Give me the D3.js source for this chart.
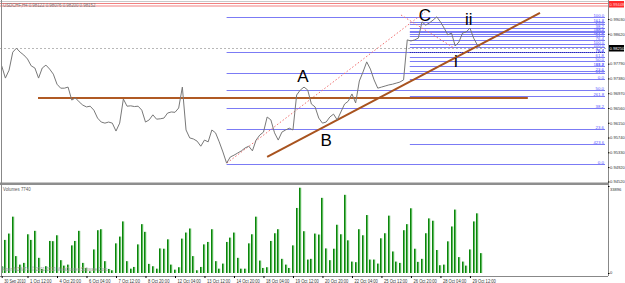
<!DOCTYPE html>
<html>
<head>
<meta charset="utf-8">
<script src="https://cdn.jsdelivr.net/npm/d3@7"></script>
<style>
  body { margin: 0; background: #fff; }
  svg { display: block; font-family: "Liberation Sans", Arial, sans-serif; }
</style>
</head>
<body>
<div id="chart"></div>
<script>
// USDCHF H4 closes, one per bar (30 Sep 2010 - 29 Oct 2010)
const closes = [
  0.9773, 0.9739, 0.9761, 0.9811, 0.9822, 0.9811, 0.9803, 0.9792, 0.9773, 0.9767,
  0.9739, 0.9767, 0.9775, 0.9764, 0.9750, 0.9722, 0.9711, 0.9711, 0.9714, 0.9678,
  0.9684, 0.9673, 0.9664, 0.9659, 0.9661, 0.9650, 0.9628, 0.9617, 0.9614, 0.9617,
  0.9614, 0.9592, 0.9614, 0.9681, 0.9661, 0.9662, 0.9660, 0.9661, 0.9650, 0.9617,
  0.9623, 0.9637, 0.9625, 0.9626, 0.9628, 0.9642, 0.9645, 0.9644, 0.9656, 0.9714,
  0.9595, 0.9573, 0.9570, 0.9564, 0.9550, 0.9567, 0.9562, 0.9595, 0.9587, 0.9562,
  0.9534, 0.9503, 0.9520, 0.9525, 0.9531, 0.9537, 0.9545, 0.9550, 0.9537, 0.9567,
  0.9581, 0.9589, 0.9631, 0.9623, 0.9587, 0.9567, 0.9589, 0.9595, 0.9600, 0.9595,
  0.9692, 0.9706, 0.9714, 0.9706, 0.9667, 0.9659, 0.9628, 0.9614, 0.9617, 0.9631,
  0.9639, 0.9623, 0.9645, 0.9667, 0.9675, 0.9695, 0.9670, 0.9731, 0.9756, 0.9784,
  0.9764, 0.9734, 0.9711, 0.9714, 0.9717, 0.9720, 0.9722, 0.9725, 0.9728, 0.9734,
  0.9845, 0.9842, 0.9845, 0.9850, 0.9895, 0.9886, 0.9892, 0.9900, 0.9909, 0.9895,
  0.9878, 0.9859, 0.9864, 0.9828, 0.9839, 0.9864, 0.9867, 0.9878, 0.9850, 0.9831,
  0.9822
];

// tick volume per bar
const volumes = [
  2640, 12890, 15370, 21950, 6580, 3270, 3940, 15090, 12890, 16430,
  5910, 1580, 2640, 12490, 12400, 14700, 5000, 2880, 3270, 10760,
  12490, 16430, 3940, 1970, 670, 9180, 16670, 17060, 4610, 1580,
  1060, 11550, 14190, 20100, 4610, 1690, 2360, 11150, 19030, 16040,
  3550, 2640, 1690, 9580, 9460, 13120, 3270, 1300, 2250, 13400,
  15760, 17340, 6580, 1060, 2360, 11150, 12100, 17060, 4610, 1690,
  3670, 12100, 13790, 15760, 5910, 1690, 1690, 11550, 15090, 21950,
  4850, 1970, 2250, 12490, 15490, 17060, 5520, 3270, 1970, 10760,
  25340, 33220, 16280, 5240, 5520, 15370, 14980, 29280, 9580, 5000,
  9460, 18800, 15090, 30460, 12730, 4450, 4220, 17060, 14700, 22580,
  5240, 5240, 3670, 13520, 15490, 22350, 8390, 4450, 3940, 16670,
  19030, 25220, 9460, 4340, 5520, 15490, 21280, 20370, 8950, 3030,
  3270, 12340, 18130, 24710, 6190, 4450, 2880, 9180, 20100, 23250,
  7740
];

const timeTickBars = [0, 7, 15, 23, 31, 39, 47, 55, 63, 71, 79, 87, 95, 103, 111, 119, 127];
const timeLabels = ["30 Sep 2010", "1 Oct 12:00", "4 Oct 20:00", "6 Oct 04:00", "7 Oct 12:00",
  "8 Oct 20:00", "12 Oct 04:00", "13 Oct 12:00", "14 Oct 20:00", "18 Oct 04:00",
  "19 Oct 12:00", "20 Oct 20:00", "22 Oct 04:00", "25 Oct 12:00", "26 Oct 20:00",
  "28 Oct 04:00", "29 Oct 12:00"];

const priceTicks = [0.99030, 0.98620, 0.97790, 0.97380, 0.96970, 0.96560,
  0.96150, 0.95740, 0.95330, 0.94920, 0.94520];

// Fibonacci objects: start bar, price at 0 %, price at 100 %, levels
const fibA = { start: 61, p0: 0.95006, p100: 0.99086,
  levels: [0, 23.6, 38.2, 50.0, 61.8, 76.4, 100.0] };
const fibB = { start: 110.7, p0: 0.99086, p100: 0.98253,
  levels: [0, 23.6, 38.2, 50.0, 61.8, 76.4, 100.0, 161.8, 261.8, 423.6] };
const fibC = { start: 110.7, p0: 0.97365, p100: 0.98336,
  levels: [0, 23.6, 38.2, 50.0, 61.8, 76.4, 100.0, 127.2, 138.2, 161.8] };

// hand drawn objects (bar index, price)
const supportLine = { from: 9.85, to: 142.7, price: 0.96838 };
const trendLine = [[72, 0.95201], [146, 0.99197]];
const fibTrend1 = [[61.1, 0.95034], [114.8, 0.99224]];
const fibTrend2 = [[108.3, 0.99141], [122.7, 0.98225]];
const waveLabels = [
  { text: "A", bar: 81.7, price: 0.97282 },
  { text: "B", bar: 88, price: 0.95506 },
  { text: "C", bar: 114.8, price: 0.98975 },
  { text: "ii", bar: 126.7, price: 0.98864 },
  { text: "i", bar: 123.2, price: 0.97698 }
];

const W = 625, H = 283;
const axisX = 608, plotRight = 605;
const small = 5;
const axisFont = 4.1;

const svg = d3.select("#chart").append("svg")
    .attr("width", W)
    .attr("height", H);

svg.append("rect").attr("width", W).attr("height", H).attr("fill", "#fff");

// squeeze tiny MT4 style texts to their width in the picture
function squeeze(sel, perChar) {
    sel.attr("textLength", function() { return this.textContent.length * perChar; })
        .attr("lengthAdjust", "spacingAndGlyphs");
}

// scales
const x = d3.scaleLinear().domain([0, 130]).range([1.7, 481]);
const y = d3.scaleLinear().domain([0.9452, 0.9903]).range([181.5, 19]);
const yv = d3.scaleLinear().domain([0, 33896]).range([273, 186]);

// top lines
svg.append("line").attr("x1", 0).attr("x2", axisX).attr("y1", 1.5).attr("y2", 1.5)
    .attr("stroke", "#c8c8c8");
[3.5, 6].forEach(v => {
    svg.append("line").attr("x1", 0).attr("x2", axisX).attr("y1", v).attr("y2", v)
        .attr("stroke", "#f08080");
});
svg.append("text").attr("x", 3).attr("y", 6.5)
    .attr("font-size", small).attr("fill", "#777")
    .text("USDCHF,H4  0.98122 0.98076 0.98200 0.98152")
    .call(squeeze, 2.2);

// current price dashed line
const last = closes[closes.length - 1];
svg.append("line").attr("x1", 0).attr("x2", axisX)
    .attr("y1", Math.round(y(last)) + 0.5).attr("y2", Math.round(y(last)) + 0.5)
    .attr("stroke", "#b8b8b8").attr("stroke-dasharray", "2,2");

// Fibonacci lines; a label is skipped where another object already labels that level
function drawFib(f, skip) {
    const g = svg.append("g");
    f.levels.forEach(l => {
        const p = f.p0 + (f.p100 - f.p0) * l / 100;
        const ly = Math.round(y(p)) + 0.5;
        g.append("line")
            .attr("x1", x(f.start)).attr("x2", plotRight)
            .attr("y1", ly).attr("y2", ly)
            .attr("stroke", "#7b7bf5");
        if (skip && skip.includes(l)) return;
        g.append("text")
            .attr("x", plotRight - 1).attr("y", ly - 0.8)
            .attr("text-anchor", "end")
            .attr("font-size", 4.2).attr("fill", "#5555ff")
            .text(l.toFixed(1))
            .call(squeeze, 2.1);
    });
}
drawFib(fibA);
drawFib(fibB, [0]);
drawFib(fibC);

// dark blue dotted level
svg.append("line")
    .attr("x1", x(110.7)).attr("x2", plotRight)
    .attr("y1", Math.round(y(0.98114)) + 0.5).attr("y2", Math.round(y(0.98114)) + 0.5)
    .attr("stroke", "#1a1aa0").attr("stroke-dasharray", "1,1");

// Fibonacci trend lines (red dotted)
[fibTrend1, fibTrend2].forEach(seg => {
    svg.append("line")
        .attr("x1", x(seg[0][0])).attr("y1", y(seg[0][1]))
        .attr("x2", x(seg[1][0])).attr("y2", y(seg[1][1]))
        .attr("stroke", "#f07070").attr("stroke-dasharray", "1.5,2");
});

// brown horizontal level
svg.append("line")
    .attr("x1", x(supportLine.from)).attr("x2", x(supportLine.to))
    .attr("y1", y(supportLine.price)).attr("y2", y(supportLine.price))
    .attr("stroke", "#b05a24").attr("stroke-width", 2);

// brown trend line
svg.append("line")
    .attr("x1", x(trendLine[0][0])).attr("y1", y(trendLine[0][1]))
    .attr("x2", x(trendLine[1][0])).attr("y2", y(trendLine[1][1]))
    .attr("stroke", "#a8531f").attr("stroke-width", 2);

// price line
const line = d3.line()
    .x((d, i) => x(i))
    .y(d => y(d));

svg.append("path")
    .datum(closes)
    .attr("d", line)
    .attr("fill", "none")
    .attr("stroke", "#787878")
    .attr("stroke-width", 1);

// wave labels
svg.selectAll(".wave")
    .data(waveLabels)
    .enter().append("text")
    .attr("class", "wave")
    .attr("x", d => x(d.bar))
    .attr("y", d => y(d.price))
    .attr("text-anchor", "middle")
    .attr("font-size", 17)
    .attr("fill", "#000")
    .text(d => d.text);

// panel separator
svg.append("rect").attr("x", 0).attr("y", 182.5).attr("width", axisX).attr("height", 2.5)
    .attr("fill", "#8e8e8e");

// volume bars
const vb = svg.append("g");
volumes.forEach((v, i) => {
    const bx = Math.round(x(i));
    vb.append("rect")
        .attr("x", bx - 1).attr("y", yv(v))
        .attr("width", 1).attr("height", yv(0) - yv(v))
        .attr("fill", "#0b850b");
    vb.append("rect")
        .attr("x", bx).attr("y", yv(v))
        .attr("width", 1.2).attr("height", yv(0) - yv(v))
        .attr("fill", "#5cb85c");
});

svg.append("text").attr("x", 3).attr("y", 191)
    .attr("font-size", small).attr("fill", "#555")
    .text("Volumes 7740")
    .call(squeeze, 2.3);

svg.append("text").attr("x", 2).attr("y", 271)
    .attr("font-size", small).attr("fill", "#999")
    .text("Alpari NZ MT4, \u00a9 2001-2010 MetaQuotes Software Corp.")
    .call(squeeze, 2.05);

// frame
svg.append("line").attr("x1", 1.5).attr("x2", 1.5).attr("y1", 0).attr("y2", 276)
    .attr("stroke", "#888");

// price axis
const yAxis = svg.append("g")
    .attr("transform", `translate(${axisX},0)`)
    .call(d3.axisRight(y).tickValues(priceTicks).tickSize(1.5).tickPadding(0.5)
        .tickFormat(d3.format(".5f")));
yAxis.select(".domain").attr("stroke", "#888").attr("d", `M0.5,0V276`);
yAxis.selectAll("text").attr("font-size", axisFont).attr("fill", "#333")
    .attr("font-family", "Liberation Sans, Arial, sans-serif");

// volume axis
const vAxis = svg.append("g")
    .attr("transform", `translate(${axisX},0)`)
    .call(d3.axisRight(yv).tickValues([33896, 0]).tickSize(1.5).tickPadding(0.5)
        .tickFormat(d3.format("d")));
vAxis.select(".domain").remove();
vAxis.selectAll("text").attr("font-size", axisFont).attr("fill", "#333")
    .attr("font-family", "Liberation Sans, Arial, sans-serif")
    .attr("dy", "1em");
vAxis.selectAll(".tick").filter(d => d === 0).select("text").attr("dy", "0.2em");

// current price box and top red box
const ly = Math.round(y(last));
svg.append("rect").attr("x", axisX + 1).attr("y", ly - 3).attr("width", 15).attr("height", 6.5)
    .attr("fill", "#000");
svg.append("text").attr("x", axisX + 1.5).attr("y", ly + 1.6)
    .attr("font-size", axisFont).attr("fill", "#fff").text(d3.format(".5f")(last + 0.0003));
svg.append("rect").attr("x", axisX + 1).attr("y", 1).attr("width", 15).attr("height", 6.5)
    .attr("fill", "#ff2b2b");
svg.append("text").attr("x", axisX + 1.5).attr("y", 5.8)
    .attr("font-size", axisFont).attr("fill", "#ffd0d0").text("0.99448");

// time axis
const xAxis = svg.append("g")
    .attr("transform", "translate(0,276)")
    .call(d3.axisBottom(x).tickValues(timeTickBars).tickSize(2).tickPadding(1)
        .tickFormat((d, i) => timeLabels[i]));
xAxis.select(".domain").attr("stroke", "#888").attr("d", `M0,0.5H${axisX}`);
xAxis.selectAll("text")
    .attr("text-anchor", "start")
    .attr("dx", 2)
    .attr("font-size", small).attr("fill", "#333")
    .attr("font-family", "Liberation Sans, Arial, sans-serif")
    .call(squeeze, 1.95);
</script>
</body>
</html>
